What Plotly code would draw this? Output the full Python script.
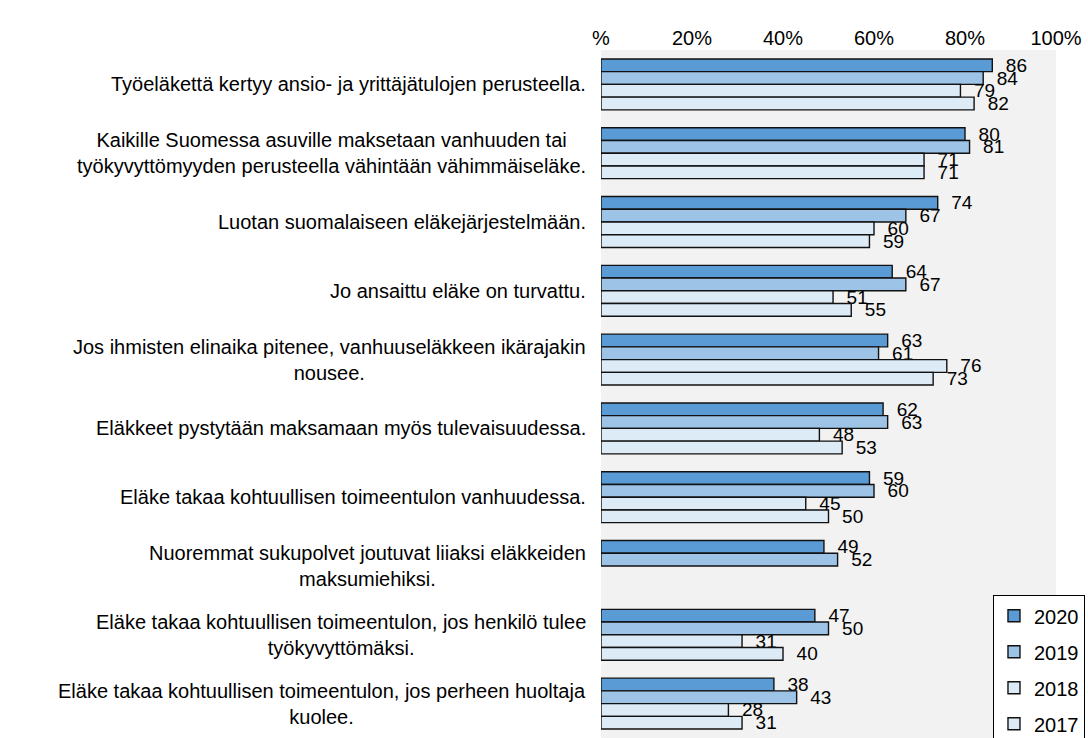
import plotly.graph_objects as go

# Statements (line breaks as in the original chart)
statements = [
    "Työeläkettä kertyy ansio- ja yrittäjätulojen perusteella.",
    "Kaikille Suomessa asuville maksetaan vanhuuden tai<br>työkyvyttömyyden perusteella vähintään vähimmäiseläke.",
    "Luotan suomalaiseen eläkejärjestelmään.",
    "Jo ansaittu eläke on turvattu.",
    "Jos ihmisten elinaika pitenee, vanhuuseläkkeen ikärajakin<br>nousee.",
    "Eläkkeet pystytään maksamaan myös tulevaisuudessa.",
    "Eläke takaa kohtuullisen toimeentulon vanhuudessa.",
    "Nuoremmat sukupolvet joutuvat liiaksi eläkkeiden<br>maksumiehiksi.",
    "Eläke takaa kohtuullisen toimeentulon, jos henkilö tulee<br>työkyvyttömäksi.",
    "Eläke takaa kohtuullisen toimeentulon, jos perheen huoltaja<br>kuolee.",
]

years = ["2020", "2019", "2018", "2017"]
v2020 = [86, 80, 74, 64, 63, 62, 59, 49, 47, 38]
v2019 = [84, 81, 67, 67, 61, 63, 60, 52, 50, 43]
v2018 = [79, 71, 60, 51, 76, 48, 45, None, 31, 28]
v2017 = [82, 71, 59, 55, 73, 53, 50, None, 40, 31]

tick_vals = [0, 20, 40, 60, 80, 100]
tick_text = ["%", "20%", "40%", "60%", "80%", "100%"]

colors = ["#5B9BD5", "#9DC3E6", "#DDEBF7", "#DDEBF7"]
series = [v2020, v2019, v2018, v2017]

cats = list(range(len(statements)))

fig = go.Figure()
for name, vals, col in zip(years, series, colors):
    fig.add_trace(go.Bar(
        y=cats, x=vals, name=name, orientation="h",
        marker=dict(color=col, line=dict(color="#111111", width=1.4)),
        text=[("" if v is None else f"  {v}") for v in vals],
        textposition="outside", constraintext="none", cliponaxis=False,
        textfont=dict(size=19, color="black"),
        legendgroup=name,
    ))

# category labels, centred multi-line like the original
for i, s in enumerate(statements):
    fig.add_annotation(
        x=0, xref="paper", y=i, yref="y", text=s, showarrow=False,
        xanchor="right", xshift=-13, align="center",
        font=dict(size=20, color="black"),
    )

fig.update_layout(
    width=1088, height=738,
    margin=dict(l=601, r=32, t=50, b=0, autoexpand=False),
    paper_bgcolor="white", plot_bgcolor="#F2F2F2",
    font=dict(family="Liberation Sans, Arial, sans-serif", size=20, color="black"),
    barmode="group", bargap=0.26, bargroupgap=0,
    xaxis=dict(range=[0, 100], side="top", tickvals=tick_vals, ticktext=tick_text,
               showgrid=False, zeroline=False, showline=False, ticks="",
               tickfont=dict(size=20)),
    yaxis=dict(autorange="reversed", showticklabels=False, showgrid=False,
               zeroline=False, showline=False, ticks=""),
    legend=dict(x=0.8615, y=0.2075, xanchor="left", yanchor="top",
                bgcolor="white", bordercolor="black", borderwidth=1,
                traceorder="grouped", tracegroupgap=7,
                font=dict(size=20)),
    showlegend=True,
)

# drop the default page margin so the chart sits at the top-left corner
fig.write_html("out.html", config={"displayModeBar": False},
               post_script="document.body.style.margin='0';")
